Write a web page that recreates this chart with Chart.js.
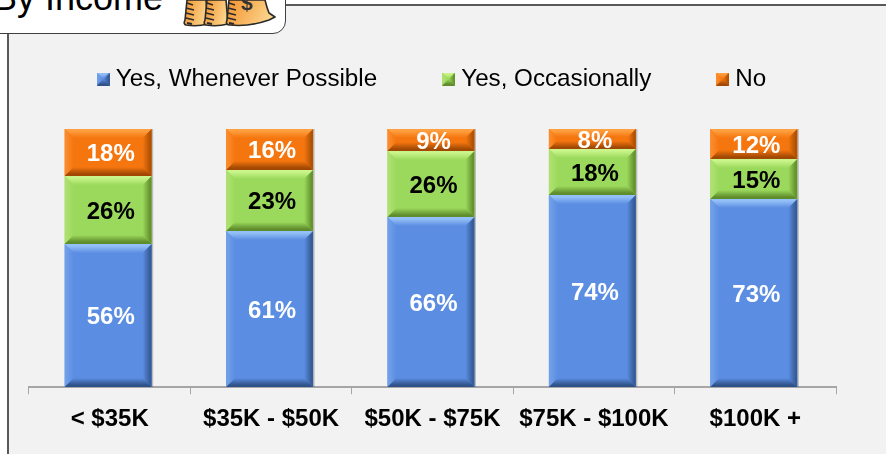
<!DOCTYPE html>
<html>
<head>
<meta charset="utf-8">
<script src="https://cdn.jsdelivr.net/npm/chart.js@4"></script>
<style>
    html, body { margin: 0; padding: 0; background: #fff; overflow: hidden; }
    body { width: 886px; height: 454px; position: relative; font-family: "Liberation Sans", Arial, sans-serif; }
    #frame { position: absolute; left: 7px; top: 4px; width: 890px; height: 470px; background: #f2f2f2; border: 2px solid #595959; box-sizing: border-box; }
    #tab { position: absolute; left: -20px; top: -20px; width: 305.5px; height: 53.5px; background: #fff; border: 1.5px solid #404040; border-radius: 13px; box-sizing: border-box; }
    #tab-text { position: absolute; left: -7px; top: -23px; font-size: 36px; line-height: 42px; color: #000; white-space: nowrap; }
    #bags { position: absolute; left: 183px; top: 0; }
    canvas { position: absolute; left: 0; top: 0; }
</style>
</head>
<body>
<div id="frame"></div>
<div id="tab"></div>
<div id="tab-text">By Income</div>
<svg id="bags" width="94" height="28" viewBox="0 0 94 28">
    <defs>
        <linearGradient id="bagFill" x1="0" y1="0" x2="1" y2="0.3">
            <stop offset="0" stop-color="#f3902c"/>
            <stop offset="1" stop-color="#fbd48a"/>
        </linearGradient>
    </defs>
    <g fill="url(#bagFill)" stroke="#2a2a2a" stroke-width="1.6" stroke-linejoin="round">
        <path d="M4 0 L23 0 L25 24 Q14 27 3 25 Q0 24 2 20 Z"/>
        <path d="M24 0 L43 0 L45 24 Q34 27 23 25 Q20 24 22 20 Z"/>
        <path d="M46 0 L82 0 Q84 8 86 13 L92 17 L86 20 Q66 27 47 25 Q42 25 44 20 Z"/>
    </g>
    <g stroke="#2a2a2a" stroke-width="1.8" fill="none">
        <path d="M4 3 L10 5 M3 8 L11 10 M3 13 L11 15 M3 18 L11 20 M4 23 L9 24"/>
        <path d="M24 3 L30 5 M23 8 L31 10 M23 13 L31 15 M23 18 L31 20 M24 23 L29 24"/>
        <path d="M46 3 L52 5 M45 8 L53 10 M45 13 L53 15 M45 18 L53 20 M46 23 L51 24"/>
    </g>
    <text x="58" y="10" font-size="21" font-weight="bold" fill="#333" font-family="Liberation Sans">$</text>
</svg>
<canvas id="chart" width="886" height="454"></canvas>
<script>
const categories = ['< $35K', '$35K - $50K', '$50K - $75K', '$75K - $100K', '$100K +'];
const yesWhenever = [55.4, 60.5, 65.9, 74.4, 72.9];
const yesOccasionally = [26.4, 23.6, 25.6, 17.8, 15.5];
const no = [18.2, 15.9, 8.5, 7.8, 11.6];
const yesWheneverLabels = ['56%', '61%', '66%', '74%', '73%'];
const yesOccasionallyLabels = ['26%', '23%', '26%', '18%', '15%'];
const noLabels = ['18%', '16%', '9%', '8%', '12%'];

const palettes = {
    blue: { base: '#5b8de2', top: '#94c0f8', left: '#6f9fe8', right: '#375c98', bottom: '#2f5288' },
    green: { base: '#9bd95c', top: '#c9f58a', left: '#aee070', right: '#66932f', bottom: '#5f8c2c' },
    orange: { base: '#f5760f', top: '#ffa040', left: '#fa8a2a', right: '#b05205', bottom: '#a04804' }
};

// small beveled square for the legend
function swatch(p) {
    const c = document.createElement('canvas');
    c.width = 13;
    c.height = 13;
    bevelBox(c.getContext('2d'), 0, 0, 13, 13, 6.5, p);
    return c;
}

function bevelBox(ctx, x, y, w, h, b, p) {
    const face = (edge, x0, y0, x1, y1, pts) => {
        const g = ctx.createLinearGradient(x0, y0, x1, y1);
        g.addColorStop(0, edge);
        g.addColorStop(0.2, edge);
        g.addColorStop(1, p.base);
        ctx.fillStyle = g;
        ctx.beginPath();
        pts.forEach((pt, i) => i ? ctx.lineTo(pt[0], pt[1]) : ctx.moveTo(pt[0], pt[1]));
        ctx.closePath();
        ctx.fill();
    };
    ctx.fillStyle = p.base;
    ctx.fillRect(x, y, w, h);
    face(p.top, 0, y, 0, y + b, [[x, y], [x + w, y], [x + w - b, y + b], [x + b, y + b]]);
    face(p.left, x, 0, x + b, 0, [[x, y], [x + b, y + b], [x + b, y + h - b], [x, y + h]]);
    face(p.right, x + w, 0, x + w - b, 0, [[x + w, y], [x + w, y + h], [x + w - b, y + h - b], [x + w - b, y + b]]);
    face(p.bottom, 0, y + h, 0, y + h - b, [[x, y + h], [x + b, y + h - b], [x + w - b, y + h - b], [x + w, y + h]]);
}

// bevel faces and percent labels on top of the bars
const bevelPlugin = {
    id: 'bevel',
    afterDatasetsDraw(chart) {
        const ctx = chart.ctx;
        chart.data.datasets.forEach((ds, i) => {
            chart.getDatasetMeta(i).data.forEach((bar, j) => {
                const x = bar.x - bar.width / 2 - 1.5;
                const top = Math.round(bar.y);
                const h = Math.round(bar.base) - top;
                ctx.save();
                ctx.fillStyle = 'rgba(90, 90, 90, 0.35)';
                ctx.fillRect(x + bar.width, top, 1.5, h);
                bevelBox(ctx, x, top, bar.width, h, Math.min(9, h / 2.5), ds.palette);
                ctx.fillStyle = ds.labelColor;
                ctx.font = 'bold 24px "Liberation Sans"';
                ctx.textAlign = 'center';
                ctx.textBaseline = 'middle';
                ctx.fillText(ds.valueLabels[j], bar.x + 1, top + h / 2 + 2);
                ctx.restore();
            });
        });
    }
};

new Chart(document.getElementById('chart'), {
    type: 'bar',
    plugins: [bevelPlugin],
    data: {
        labels: categories,
        datasets: [
            { label: 'Yes, Whenever Possible', data: yesWhenever, backgroundColor: 'transparent', palette: palettes.blue, labelColor: '#fff', valueLabels: yesWheneverLabels, pointStyle: swatch(palettes.blue) },
            { label: 'Yes, Occasionally', data: yesOccasionally, backgroundColor: 'transparent', palette: palettes.green, labelColor: '#000', valueLabels: yesOccasionallyLabels, pointStyle: swatch(palettes.green) },
            { label: 'No', data: no, backgroundColor: 'transparent', palette: palettes.orange, labelColor: '#fff', valueLabels: noLabels, pointStyle: swatch(palettes.orange) }
        ]
    },
    options: {
        responsive: false,
        animation: false,
        layout: { padding: { left: 29, right: 46, top: -4, bottom: 9 } },
        datasets: { bar: { barThickness: 87 } },
        plugins: {
            tooltip: { enabled: false },
            // empty title below the legend, only keeps the gap above the bars
            title: { display: true, text: ' ', weight: 500, padding: { top: 0, bottom: 13.6 }, font: { size: 12, lineHeight: 1.2 } },
            legend: {
                position: 'top',
                labels: {
                    color: '#000',
                    font: { family: '"Liberation Sans"', size: 24.2 },
                    usePointStyle: true,
                    pointStyleWidth: 1,
                    padding: 71
                }
            }
        },
        scales: {
            x: {
                stacked: true,
                offset: true,
                border: { color: '#a6a6a6', width: 2 },
                grid: { drawOnChartArea: false, color: '#a6a6a6', tickLength: 7, offset: true },
                ticks: { color: '#000', font: { family: '"Liberation Sans"', size: 24, weight: 'bold' }, padding: 11, maxRotation: 0, autoSkip: false }
            },
            y: {
                stacked: true,
                position: 'right',
                min: 0,
                max: 100,
                ticks: { display: false },
                grid: { display: false },
                border: { display: false },
                afterFit(scale) { scale.width = 4; }
            }
        }
    }
});
</script>
</body>
</html>
